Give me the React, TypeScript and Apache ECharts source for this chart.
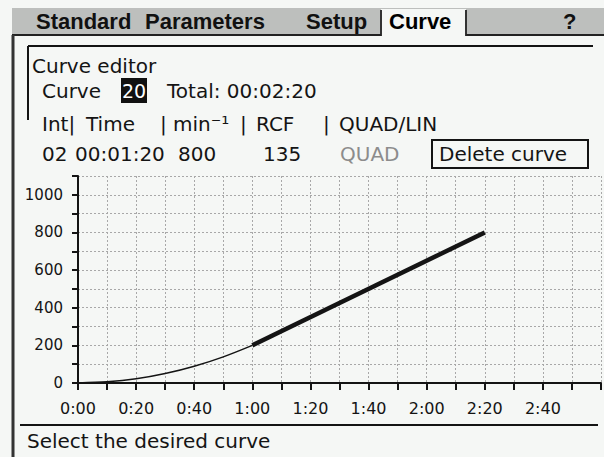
import React, { useEffect, useRef } from 'react';
import * as echarts from 'echarts';

// ---- data ----
const tabLabels = ['Standard', 'Parameters', 'Setup', 'Curve', '?'];
const activeTab = 'Curve';
const editorTitle = 'Curve editor';
const curveLabel = 'Curve';
const curveNumber = '20';
const totalLabel = 'Total: 00:02:20';
const headerCols = ['Int|', 'Time', '|', 'min⁻¹', '|', 'RCF', '|', 'QUAD/LIN'];
const rowValues = ['02', '00:01:20', '800', '135', 'QUAD'];
const deleteLabel = 'Delete curve';
const statusText = 'Select the desired curve';

// interval 1 (quadratic ramp), seconds vs min⁻¹
const quadTimes = [0, 10, 20, 30, 40, 50, 60];
const quadRpm = [0, 6, 22, 50, 89, 139, 200];
// interval 2 (selected, linear)
const linTimes = [60, 140];
const linRpm = [200, 800];

// ---- layout (not data) ----
const BG = '#f5f7f5';
const INK = '#141414';
const BODY_FONT = '20px "DejaVu Sans"';
const TAB_FONT = 'bold 22px "Liberation Sans"';
const tabX = [36, 145, 306, 389, 563];
const headerX = [42, 86, 160, 173, 240, 256, 323, 339];
const rowX = [42, 75, 178, 263, 340];

const fmt = (v: number) => {
  const m = Math.floor(v / 60);
  const s = v % 60;
  return `${m}:${s < 10 ? '0' + s : s}`;
};

export default function App() {
  const ref = useRef<HTMLDivElement>(null);
  useEffect(() => {
    if (!ref.current) return;
    const chart = echarts.init(ref.current, undefined, { renderer: 'svg' });
    const txt = (text: string, x: number, y: number, font = BODY_FONT, fill = INK, align = 'left') => ({
      type: 'text',
      x,
      y,
      z: 10,
      style: { text, font, fill, align, verticalAlign: 'middle' },
    });
    const ln = (x1: number, y1: number, x2: number, y2: number, w = 2, c = INK) => ({
      type: 'line',
      z: 5,
      shape: { x1, y1, x2, y2 },
      style: { stroke: c, lineWidth: w },
    });
    const graphics: any[] = [
      { type: 'rect', z: 1, shape: { x: 12, y: 8, width: 592, height: 27 }, style: { fill: '#bdbfbd' } },
      { type: 'rect', z: 2, shape: { x: 381, y: 9, width: 85, height: 28 }, style: { fill: BG } },
      ln(381, 10, 381, 36, 2, '#333'),
      ln(466, 10, 466, 36, 2, '#333'),
      ln(12, 35, 381, 35, 2, '#222'),
      ln(466, 35, 604, 35, 2, '#222'),
      ln(13, 35, 13, 457, 3, '#333'),
      ln(28, 46, 593, 46, 2),
      ln(28, 46, 28, 120, 2),
      ln(20, 425, 598, 425, 2),
      { type: 'rect', z: 6, shape: { x: 121, y: 78, width: 26, height: 25 }, style: { fill: '#111' } },
      { type: 'rect', z: 6, shape: { x: 432, y: 140, width: 156, height: 28 }, style: { fill: 'none', stroke: INK, lineWidth: 2 } },
    ];
    tabLabels.forEach((t, i) => graphics.push(txt(t, tabX[i], 21, TAB_FONT, t === activeTab ? '#000' : '#111')));
    graphics.push(txt(editorTitle, 32, 66));
    graphics.push(txt(curveLabel, 42, 91));
    graphics.push(txt(curveNumber, 134, 91, '19px "DejaVu Sans"', '#fff', 'center'));
    graphics.push(txt(totalLabel, 167, 91));
    headerCols.forEach((t, i) => graphics.push(txt(t, headerX[i], 124)));
    rowValues.forEach((t, i) => graphics.push(txt(t, rowX[i], 154, BODY_FONT, i === 4 ? '#8c8c8c' : INK)));
    graphics.push(txt(deleteLabel, 439, 154));
    graphics.push(txt(statusText, 27, 441));

    chart.setOption({
      animation: false,
      backgroundColor: BG,
      grid: { left: 78, right: 0, top: 176, bottom: 74 },
      xAxis: {
        type: 'value',
        min: 0,
        max: 180,
        interval: 10,
        axisLine: { show: true, onZero: false, lineStyle: { color: INK, width: 2 } },
        axisTick: { show: true, length: 7, lineStyle: { color: INK, width: 2 } },
        axisLabel: {
          margin: 17,
          color: INK,
          fontFamily: 'DejaVu Sans',
          fontSize: 16,
          formatter: (v: number) => (v % 20 === 0 && v <= 160 ? fmt(v) : ''),
        },
        splitLine: { show: true, lineStyle: { color: '#a8a8a8', type: [2, 2], width: 1 } },
      },
      yAxis: {
        type: 'value',
        min: 0,
        max: 1100,
        interval: 100,
        axisLine: { show: true, lineStyle: { color: INK, width: 2 } },
        axisTick: { show: true, length: 6, lineStyle: { color: INK, width: 2 } },
        axisLabel: {
          margin: 15,
          color: INK,
          fontFamily: 'DejaVu Sans',
          fontSize: 15,
          formatter: (v: number) => (v % 200 === 0 && v <= 1000 ? String(v) : ''),
        },
        splitLine: { show: true, lineStyle: { color: '#a8a8a8', type: [2, 2], width: 1 } },
      },
      series: [
        {
          type: 'line',
          data: quadTimes.map((t, i) => [t, quadRpm[i]]),
          smooth: 0.3,
          showSymbol: false,
          lineStyle: { color: INK, width: 1.5 },
          z: 3,
        },
        {
          type: 'line',
          data: linTimes.map((t, i) => [t, linRpm[i]]),
          showSymbol: false,
          lineStyle: { color: INK, width: 4.5 },
          z: 4,
        },
      ],
      graphic: graphics,
    });
    return () => chart.dispose();
  }, []);
  return <div ref={ref} style={{ position: 'absolute', left: 0, top: 0, width: 604, height: 457 }} />;
}
